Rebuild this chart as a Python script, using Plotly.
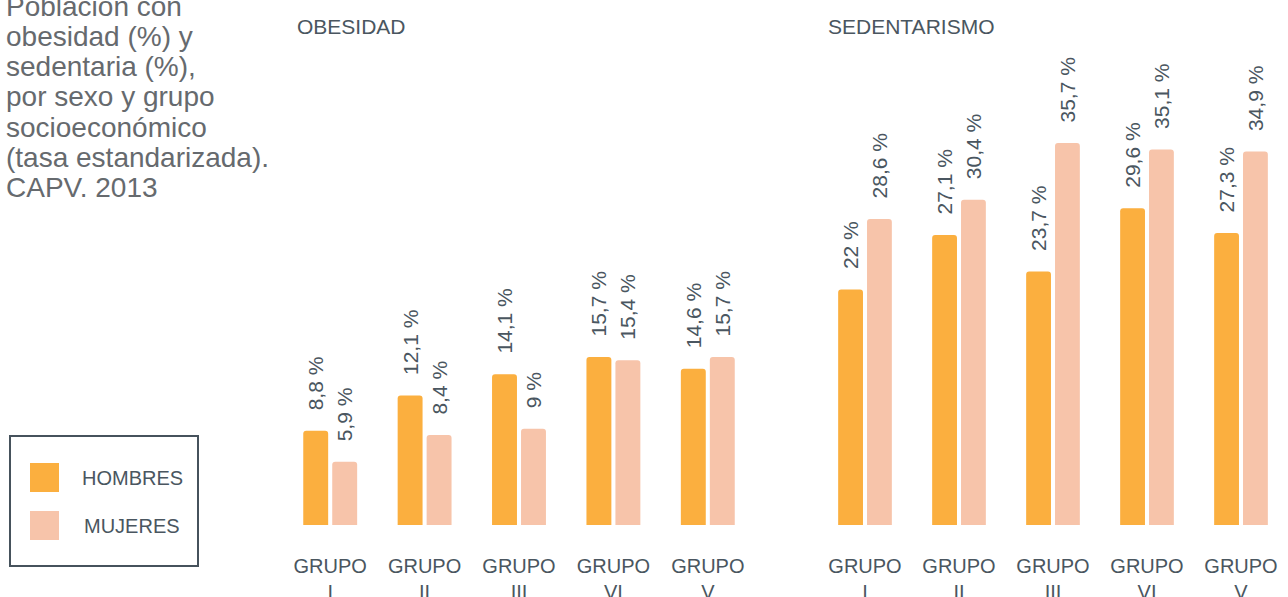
import plotly.graph_objects as go

# data
grupos = ["GRUPO I", "GRUPO II", "GRUPO III", "GRUPO VI", "GRUPO V"]
obesidad_hombres = [8.8, 12.1, 14.1, 15.7, 14.6]
obesidad_mujeres = [5.9, 8.4, 9.0, 15.4, 15.7]
sedentarismo_hombres = [22.0, 27.1, 23.7, 29.6, 27.3]
sedentarismo_mujeres = [28.6, 30.4, 35.7, 35.1, 34.9]
series_names = ["HOMBRES", "MUJERES"]
panel_titles = ["OBESIDAD", "SEDENTARISMO"]
title_lines = [
    "Población con",
    "obesidad (%) y",
    "sedentaria (%),",
    "por sexo y grupo",
    "socioeconómico",
    "(tasa estandarizada).",
    "CAPV. 2013",
]

W, H = 1288, 597
PLOT_BOTTOM = 525  # px from top where bars sit
COL_H = "#FBAF3F"
COL_M = "#F7C4AA"
TXT = "#4A5660"
FONT = "Liberation Sans, Arial, sans-serif"


def px_x(x):
    return x / W


def px_y(y):
    return (PLOT_BOTTOM - y) / PLOT_BOTTOM


def label(v):
    # leading nbsp keep the rotated labels clear of the bar tops
    return "\u00a0\u00a0\u00a0" + f"{v:g}".replace(".", ",") + " %"


tick_text = [g.replace(" ", "<br>") for g in grupos]

fig = go.Figure()
panels = [
    ("x", "y", obesidad_hombres, obesidad_mujeres),
    ("x2", "y2", sedentarismo_hombres, sedentarismo_mujeres),
]
for xa, ya, hom, muj in panels:
    for name, vals, col in [(series_names[0], hom, COL_H), (series_names[1], muj, COL_M)]:
        fig.add_trace(go.Bar(
            x=grupos, y=vals, name=name, xaxis=xa, yaxis=ya,
            marker=dict(color=col, cornerradius=3, line_width=0),
            text=[label(v) for v in vals],
            textposition="outside", textangle=-90, constraintext="none",
            cliponaxis=False,
            textfont=dict(family=FONT, size=21, color=TXT),
            showlegend=False, hoverinfo="skip",
        ))

yrange = [0, PLOT_BOTTOM / 10.7]
axis_common = dict(
    showgrid=False, zeroline=False, showline=False, ticks="", automargin=False,
    tickfont=dict(family=FONT, size=20, color=TXT),
    tickvals=grupos, ticktext=tick_text, ticklabelstandoff=27,
)
fig.update_layout(
    width=W, height=H, autosize=False,
    margin=dict(l=0, r=0, t=0, b=H - PLOT_BOTTOM),
    paper_bgcolor="white", plot_bgcolor="white",
    barmode="group", bargap=0.386, bargroupgap=0.14,
    xaxis=dict(domain=[px_x(283), px_x(755)], anchor="y", **axis_common),
    xaxis2=dict(domain=[px_x(818), 1.0], anchor="y2", **axis_common),
    yaxis=dict(range=yrange, visible=False, automargin=False),
    yaxis2=dict(range=yrange, visible=False, anchor="x2", automargin=False),
    font=dict(family=FONT, color=TXT),
)

annotations = []
# panel titles
for t, x0 in zip(panel_titles, [295, 826]):
    annotations.append(dict(
        text=t, x=px_x(x0), y=px_y(27), xref="paper", yref="paper",
        xanchor="left", yanchor="middle", showarrow=False,
        font=dict(family=FONT, size=21, color=TXT),
    ))
# title block
for i, line in enumerate(title_lines):
    annotations.append(dict(
        text=line, x=px_x(4), y=px_y(6 + 30.3 * i), xref="paper", yref="paper",
        xanchor="left", yanchor="middle", showarrow=False,
        font=dict(family=FONT, size=28, color="#666A6E"),
    ))
# legend text
for name, yc in zip(series_names, [478, 526]):
    annotations.append(dict(
        text=name, x=px_x(132), y=px_y(yc), xref="paper", yref="paper",
        xanchor="center", yanchor="middle", showarrow=False,
        font=dict(family=FONT, size=20, color=TXT),
    ))
fig.update_layout(annotations=annotations)

shapes = [
    dict(type="rect", xref="paper", yref="paper",
         x0=px_x(10), x1=px_x(198), y0=px_y(566), y1=px_y(436),
         line=dict(color="#46525C", width=2), fillcolor="rgba(0,0,0,0)"),
]
for col, (y0, y1) in zip([COL_H, COL_M], [(463, 492), (511, 540)]):
    shapes.append(dict(type="rect", xref="paper", yref="paper",
                       x0=px_x(30), x1=px_x(59), y0=px_y(y1), y1=px_y(y0),
                       line_width=0, fillcolor=col))
fig.update_layout(shapes=shapes)

fig.write_html(
    "out.html",
    config={"displayModeBar": False, "responsive": False},
    post_script="document.body.style.margin='0';",
)
